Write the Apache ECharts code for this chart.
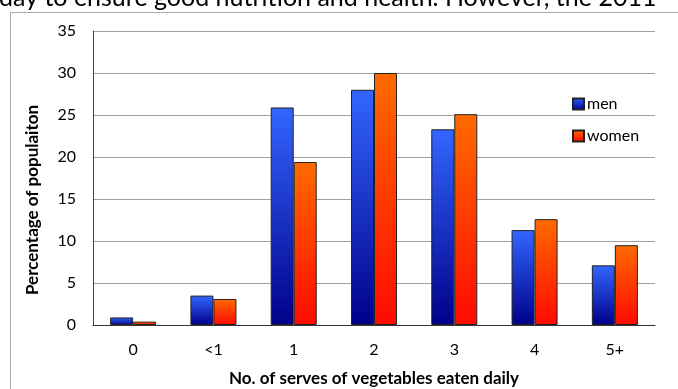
<!DOCTYPE html>
<html>
<head>
<meta charset="utf-8">
<script src="https://cdn.jsdelivr.net/npm/echarts@6/dist/echarts.min.js"></script>
<style>
html,body{margin:0;padding:0;background:#fff;}
#c{width:678px;height:389px;}
</style>
</head>
<body>
<div id="c"></div>
<script>
const categories = ['0', '<1', '1', '2', '3', '4', '5+'];
const menValues = [0.9, 3.5, 25.9, 28.0, 23.3, 11.3, 7.1];
const womenValues = [0.4, 3.1, 19.4, 30.0, 25.1, 12.6, 9.5];
const seriesNames = ['men', 'women'];
const yTicks = { min: 0, max: 35, interval: 5 };
const xTitle = 'No. of serves of vegetables eaten daily';
const yTitle = 'Percentage of populaiton';
const headerText = 'day to ensure good nutrition and health. However, the 2011';

const FONT = 'Lato';
const chart = echarts.init(document.getElementById('c'), null, { renderer: 'canvas' });

function grad(top, bottom) {
  return new echarts.graphic.LinearGradient(0, 0, 0, 1, [
    { offset: 0, color: top },
    { offset: 1, color: bottom }
  ]);
}

chart.setOption({
  animation: false,
  backgroundColor: '#fff',
  grid: { left: 93, top: 31, right: 23, bottom: 64, containLabel: false, outerBoundsMode: 'none' },
  legend: {
    orient: 'vertical',
    left: 567,
    top: 91,
    icon: 'rect',
    itemWidth: 11,
    itemHeight: 11,
    itemGap: 16,
    textStyle: { fontFamily: FONT, fontSize: 16, color: '#000', padding: [2, 0, 0, -2] },
    data: seriesNames
  },
  xAxis: {
    type: 'category',
    data: categories,
    axisTick: { show: false },
    axisLine: { lineStyle: { color: '#333', width: 1 } },
    axisLabel: { fontFamily: FONT, fontSize: 16, color: '#000', margin: 17 },
    name: xTitle,
    nameLocation: 'middle',
    nameGap: 45,
    nameTextStyle: { fontFamily: FONT, fontSize: 17, fontWeight: 'bold', color: '#000' }
  },
  yAxis: {
    type: 'value',
    min: yTicks.min,
    max: yTicks.max,
    interval: yTicks.interval,
    axisLine: { show: true, lineStyle: { color: '#444', width: 1 } },
    axisTick: { show: false },
    splitLine: { lineStyle: { color: '#a0a0a0', width: 1 } },
    axisLabel: { fontFamily: FONT, fontSize: 16, color: '#000', margin: 17 }
  },
  series: [
    {
      name: seriesNames[0],
      type: 'bar',
      data: menValues,
      barWidth: 23,
      barGap: '0%',
      itemStyle: { color: grad('#3366ff', '#00008a'), borderColor: '#222', borderWidth: 1 }
    },
    {
      name: seriesNames[1],
      type: 'bar',
      data: womenValues,
      barWidth: 23,
      barGap: '0%',
      itemStyle: { color: grad('#ff6a00', '#ff0a00'), borderColor: '#222', borderWidth: 1 }
    }
  ],
  graphic: [
    { type: 'line', shape: { x1: 10.5, y1: 12.5, x2: 678, y2: 12.5 }, style: { stroke: '#aaa', lineWidth: 1 } },
    { type: 'line', shape: { x1: 10.5, y1: 12.5, x2: 10.5, y2: 389 }, style: { stroke: '#aaa', lineWidth: 1 } },
    { type: 'text', x: -1, y: 10, style: { text: headerText, fontFamily: FONT, fontSize: 25, fill: '#000', verticalAlign: 'bottom', align: 'left' } },
    { type: 'text', x: 33, y: 200, rotation: Math.PI / 2, style: { text: yTitle, fontFamily: FONT, fontSize: 17, fontWeight: 'bold', fill: '#000', align: 'center', verticalAlign: 'middle' } }
  ]
});
</script>
</body>
</html>
